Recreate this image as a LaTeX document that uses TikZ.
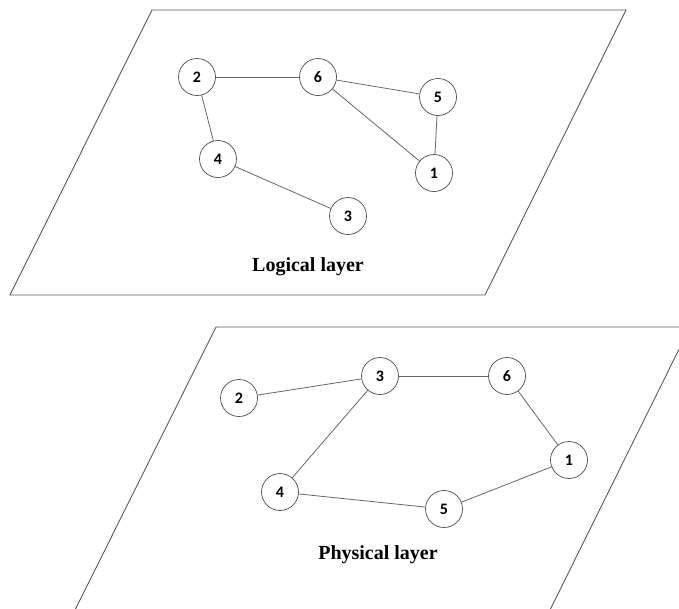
\documentclass[tikz,border=0pt]{standalone}
\usepackage{fontspec}
\setmainfont{Liberation Serif}
\newfontfamily\numfont{Carlito}
\begin{document}
\begin{tikzpicture}[x=1pt,y=-1pt,
  vtx/.style={circle,draw=black!70,fill=white,line width=0.7pt,minimum size=37pt,inner sep=0pt,font=\numfont\bfseries\fontsize{16}{18}\selectfont},
  edge/.style={draw=black!60,line width=0.8pt},
  plane/.style={draw=black!65,line width=0.9pt},
  lbl/.style={font=\bfseries\fontsize{20}{24}\selectfont}]
\useasboundingbox (0,0) rectangle (679,608);
\begin{scope}
\clip (0,0) rectangle (679,608);
% top plane
\coordinate (pa) at (152,10);
\coordinate (pb) at (626,10);
\coordinate (pc) at (485,295);
\coordinate (pd) at (10,295);
\draw[plane] (pa) -- (pb) -- (pc) -- (pd) -- cycle;
% bottom plane
\coordinate (qa) at (216,327);
\coordinate (qb) at (690,327);
\coordinate (qc) at (549,612);
\coordinate (qd) at (74,612);
\draw[plane] (qd) -- (qa) -- (qb) -- (qc);
\end{scope}
% logical layer
\node[vtx] (t2) at (197,77) {2};
\node[vtx] (t6) at (318,77) {6};
\node[vtx] (t5) at (438,97) {5};
\node[vtx] (t4) at (218,159) {4};
\node[vtx] (t1) at (434,173) {1};
\node[vtx] (t3) at (348,216) {3};
\draw[edge] (t2) -- (t6);
\draw[edge] (t6) -- (t5);
\draw[edge] (t6) -- (t1);
\draw[edge] (t5) -- (t1);
\draw[edge] (t2) -- (t4);
\draw[edge] (t4) -- (t3);
\node[lbl] (ll) at (308,267) {Logical layer};
% physical layer
\node[vtx] (b3) at (380,376) {3};
\node[vtx] (b6) at (507,376) {6};
\node[vtx] (b2) at (239,398) {2};
\node[vtx] (b1) at (569,460) {1};
\node[vtx] (b4) at (280,492) {4};
\node[vtx] (b5) at (444,509) {5};
\draw[edge] (b2) -- (b3);
\draw[edge] (b3) -- (b6);
\draw[edge] (b6) -- (b1);
\draw[edge] (b3) -- (b4);
\draw[edge] (b4) -- (b5);
\draw[edge] (b5) -- (b1);
\node[lbl] (pl) at (378,555) {Physical layer};
\end{tikzpicture}
\end{document}
